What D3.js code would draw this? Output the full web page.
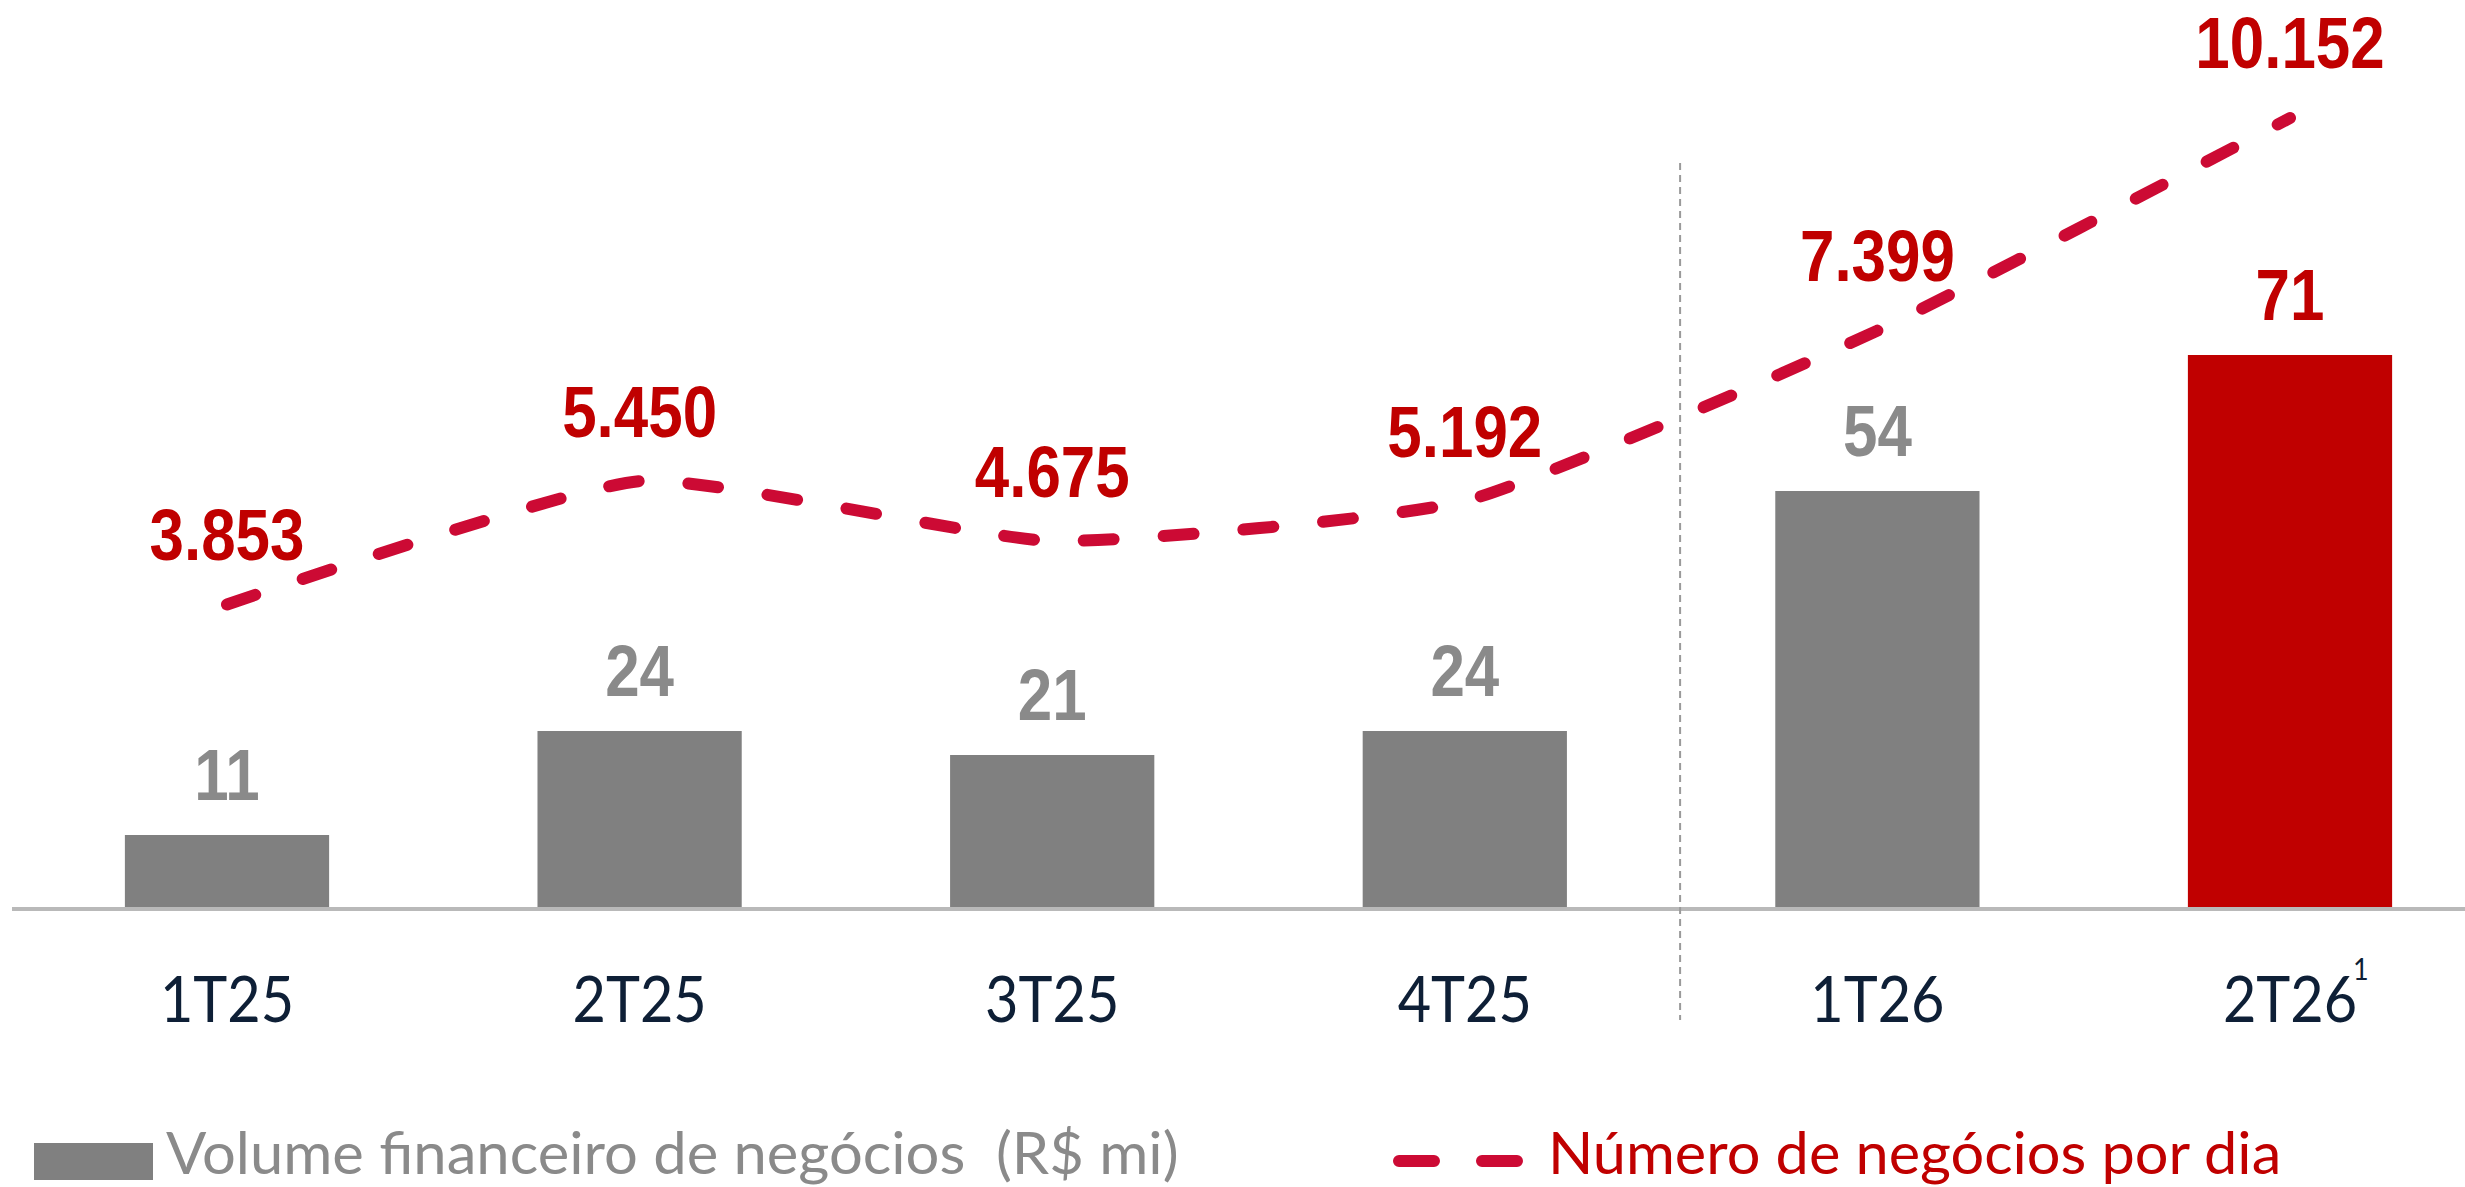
<!DOCTYPE html>
<html>
<head>
<meta charset="utf-8">
<script src="https://cdn.jsdelivr.net/npm/d3@7"></script>
<style>
  html, body { margin: 0; padding: 0; background: #ffffff; }
  svg { display: block; }
  text { white-space: pre; }
</style>
</head>
<body>
<script>
// ---- data ----
const categories = ["1T25", "2T25", "3T25", "4T25", "1T26", "2T26"];
const volume = [11, 24, 21, 24, 54, 71];
const negocios = [3853, 5450, 4675, 5192, 7399, 10152];
const barColors = ["#808080", "#808080", "#808080", "#808080", "#808080", "#C00000"];
const superscripts = ["", "", "", "", "", "1"];
const legendBar = "Volume financeiro de negócios  (R$ mi)";
const legendLine = "Número de negócios por dia";

const W = 2465, H = 1187;
const baseY = 907;

const svg = d3.select("body").append("svg").attr("width", W).attr("height", H);

const ptBR = d3.formatLocale({ decimal: ",", thousands: ".", grouping: [3], currency: ["R$", ""] });
const fmt = ptBR.format(",d");

const x = d3.scaleBand().domain(categories).range([20.7, 2496.3]).paddingInner(0.505).paddingOuter(0.2525);
const yBar = d3.scaleLinear().domain([2, 71]).range([baseY, 355]);
const yLine = d3.scaleLinear().domain([0, 10152]).range([902, 118]);
const cx = c => x(c) + x.bandwidth() / 2;

const numFont = "'Liberation Sans', Arial, sans-serif";
const catFont = "Lato, 'Open Sans', sans-serif";

// bars
svg.append("g").selectAll("rect").data(categories).join("rect")
  .attr("x", c => x(c))
  .attr("width", x.bandwidth())
  .attr("y", (c, i) => yBar(volume[i]))
  .attr("height", (c, i) => baseY - yBar(volume[i]))
  .attr("fill", (c, i) => barColors[i]);

// baseline
svg.append("line").attr("x1", 12).attr("x2", W).attr("y1", baseY + 2).attr("y2", baseY + 2)
  .attr("stroke", "#b9b9b9").attr("stroke-width", 4);

// divider
const divX = (cx("4T25") + cx("1T26")) / 2 + 9;
svg.append("line").attr("x1", divX).attr("x2", divX).attr("y1", 163).attr("y2", 1020)
  .attr("stroke", "#9a9a9a").attr("stroke-width", 2).attr("stroke-dasharray", "7,5");

// bar value labels
svg.append("g").selectAll("text").data(categories).join("text")
  .attr("transform", (c, i) => `translate(${cx(c)},${yBar(volume[i]) - 35}) scale(0.86,1)`)
  .attr("text-anchor", "middle")
  .attr("font-family", numFont).attr("font-weight", "bold").attr("font-size", 72)
  .attr("fill", (c, i) => i === categories.length - 1 ? "#C00000" : "#8a8a8a")
  .text((c, i) => volume[i]);

// line
const line = d3.line()
  .x((d, i) => cx(categories[i]))
  .y(d => yLine(d))
  .curve(d3.curveCardinal.tension(0.5));
svg.append("path").datum(negocios)
  .attr("d", line)
  .attr("fill", "none")
  .attr("stroke", "#CC0A34")
  .attr("stroke-width", 12)
  .attr("stroke-linecap", "round")
  .attr("stroke-dasharray", "30,50");

// line labels
svg.append("g").selectAll("text").data(categories).join("text")
  .attr("transform", (c, i) => `translate(${cx(c)},${yLine(negocios[i]) - (i >= 4 ? 50 : 44)}) scale(0.86,1)`)
  .attr("text-anchor", "middle")
  .attr("font-family", numFont).attr("font-weight", "bold").attr("font-size", 72)
  .attr("fill", "#C00000")
  .text((c, i) => fmt(negocios[i]));

// category labels
const catG = svg.append("g").selectAll("g").data(categories).join("g")
  .attr("transform", c => `translate(${cx(c)},1022) scale(0.9,1)`);
catG.append("text")
  .attr("text-anchor", "middle")
  .attr("font-family", catFont).attr("font-size", 64)
  .attr("fill", "#0e1f36")
  .text(c => c);
catG.filter((c, i) => superscripts[i] !== "").append("text")
  .attr("x", 70).attr("y", -42)
  .attr("font-family", catFont).attr("font-size", 30)
  .attr("fill", "#0e1f36")
  .text((c) => superscripts[categories.indexOf(c)]);

// legend
svg.append("rect").attr("x", 34).attr("y", 1143).attr("width", 119).attr("height", 37).attr("fill", "#808080");
svg.append("text")
  .attr("transform", "translate(166,1174) scale(1.03,1)")
  .attr("font-family", catFont).attr("font-size", 58)
  .attr("fill", "#8a8a8a")
  .text(legendBar);

svg.append("line").attr("x1", 1399).attr("x2", 1517).attr("y1", 1161).attr("y2", 1161)
  .attr("stroke", "#CC0A34").attr("stroke-width", 12).attr("stroke-linecap", "round")
  .attr("stroke-dasharray", "35,48");
svg.append("text")
  .attr("transform", "translate(1548,1174) scale(1.025,1)")
  .attr("font-family", catFont).attr("font-size", 58)
  .attr("fill", "#C00000")
  .text(legendLine);
</script>
</body>
</html>
